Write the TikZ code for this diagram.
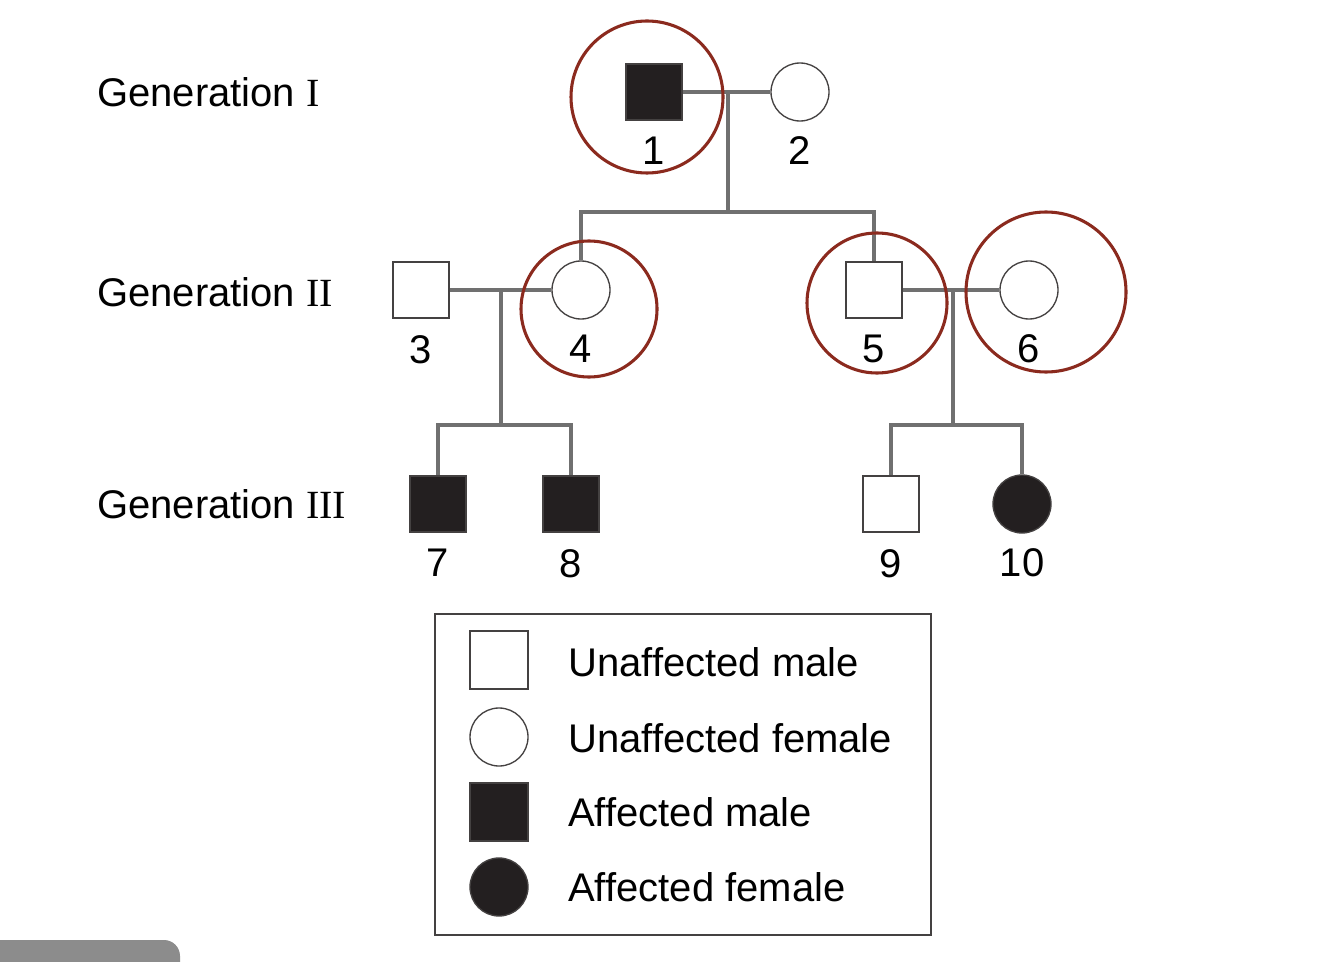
\documentclass[tikz,border=0pt]{standalone}
\usepackage{fontspec}
\setmainfont{Liberation Sans}
\newfontfamily\numeralfont{Liberation Serif}
\usepackage{tikz}
\usetikzlibrary{positioning}
\definecolor{ringred}{HTML}{8B2A1E}
\definecolor{linegray}{HTML}{707070}
\definecolor{symblack}{HTML}{231F20}
\definecolor{tabgray}{HTML}{8C8C8C}
\tikzset{
    male/.style={
        draw=symblack!85,
        line width=1.4pt,
        minimum size=42pt,
        inner sep=0pt,
        fill=white
    },
    female/.style={
        circle,
        draw=symblack!85,
        line width=1pt,
        minimum size=43.5pt,
        inner sep=0pt,
        fill=white
    },
    affmale/.style={male, fill=symblack},
    afffemale/.style={female, fill=symblack},
    num/.style={font=\fontsize{30}{36}\selectfont, inner sep=0pt},
    gen/.style={font=\fontsize{30}{36}\selectfont, inner sep=0pt, anchor=base west},
    keytext/.style={font=\fontsize{30}{36}\selectfont, inner sep=0pt, anchor=base west},
    link/.style={draw=linegray, line width=2.3pt},
    ring/.style={circle, draw=ringred, line width=2.3pt, inner sep=0pt},
    keybox/.style={
        draw=symblack!85,
        line width=1.5pt,
        minimum width=372pt,
        minimum height=240.75pt,
        inner sep=0pt
    }
}

\begin{document}
\begin{tikzpicture}[x=0.75pt, y=-0.75pt]
        \useasboundingbox (0,0) rectangle (1330,962);
        \fill[white] (0,0) rectangle (1330,962);

        % generation labels
        \node[gen] (g1) at (97,107) {Generation {\numeralfont I}};
        \node[gen] (g2) at (97,306) {Generation {\numeralfont II}};
        \node[gen] (g3) at (97,518) {Generation {\numeralfont III}};

        % generation I
        \node[affmale] (n1) at (654,92) {};
        \node[female] (n2) at (800,92) {};
        \node[num, below=12pt of n1] (l1) {1};
        \node[num, below=11pt of n2] (l2) {2};

        % generation II
        \node[male] (n3) at (421,290) {};
        \node[female] (n4) at (581,290) {};
        \node[male] (n5) at (874,290) {};
        \node[female] (n6) at (1029,290) {};
        \node[num, below=12pt of n3] (l3) {3};
        \node[num, below=11pt of n4] (l4) {4};
        \node[num, below=12pt of n5] (l5) {5};
        \node[num, below=11pt of n6] (l6) {6};

        % generation III
        \node[affmale] (n7) at (438,504) {};
        \node[affmale] (n8) at (571,504) {};
        \node[male] (n9) at (891,504) {};
        \node[afffemale] (n10) at (1022,504) {};
        \node[num, below=12pt of n7] (l7) {7};
        \node[num, below=12pt of n8] (l8) {8};
        \node[num, below=12pt of n9] (l9) {9};
        \node[num, below=11pt of n10] (l10) {10};

        \coordinate (m12) at (728,92);
        \coordinate (s12) at (728,212);
        \coordinate (m34) at (501,290);
        \coordinate (s34) at (501,425);
        \coordinate (m56) at (953,290);
        \coordinate (s56) at (953,425);

        \draw[link] (n1) -- (n2);
        \draw[link] (m12) -- (s12);
        \draw[link] (n4.north) |- (s12) -| (n5.north);
        \draw[link] (n3) -- (n4);
        \draw[link] (m34) -- (s34);
        \draw[link] (n7.north) |- (s34) -| (n8.north);
        \draw[link] (n5) -- (n6);
        \draw[link] (m56) -- (s56);
        \draw[link] (n9.north) |- (s56) -| (n10.north);

        % highlighted individuals
        \node[ring, minimum size=114pt] (r1) at (647,97) {};
        \node[ring, minimum size=102pt] (r4) at (589,309) {};
        \node[ring, minimum size=105pt] (r5) at (877,303) {};
        \node[ring, minimum size=120pt] (r6) at (1046,292) {};

        % key
        \node[keybox] (key) at (683,774.5) {};
        \node[male, minimum size=43.5pt] (k1) at (499,660) {};
        \node[female] (k2) at (499,737) {};
        \node[affmale, minimum size=43.5pt] (k3) at (499,812) {};
        \node[afffemale] (k4) at (499,887) {};
        \node[keytext] (t1) at (568,676) {Unaffected male};
        \node[keytext] (t2) at (568,752) {Unaffected female};
        \node[keytext] (t3) at (568,826) {Affected male};
        \node[keytext] (t4) at (568,901) {Affected female};

        \fill[tabgray, rounded corners=12pt] (-30,940) rectangle (180,1000);
    \end{tikzpicture}
\end{document}
